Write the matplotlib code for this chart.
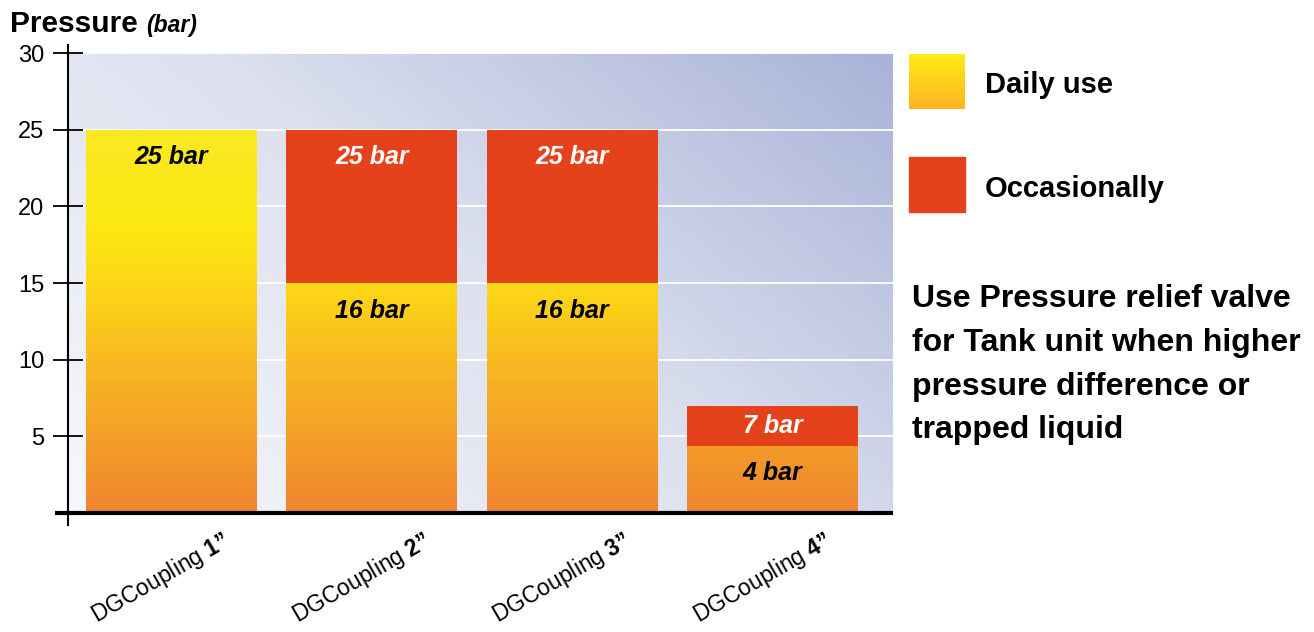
import matplotlib.pyplot as plt
import numpy as np
from matplotlib.colors import LinearSegmentedColormap
from matplotlib.patches import Rectangle
from matplotlib.transforms import ScaledTranslation

plt.rcParams['font.family'] = ['Liberation Sans', 'DejaVu Sans']
plt.rcParams['mathtext.fontset'] = 'custom'
plt.rcParams['mathtext.rm'] = 'Liberation Sans'
plt.rcParams['mathtext.bf'] = 'Liberation Sans:bold'

# data
sizes = ["1”", "2”", "3”", "4”"]
daily = [25, 15, 15, 4.4]
occasional = [0, 10, 10, 2.6]
daily_labels = ["25 bar", "16 bar", "16 bar", "4 bar"]
occasional_labels = ["", "25 bar", "25 bar", "7 bar"]
legend_labels = ["Daily use", "Occasionally"]
note = "Use Pressure relief valve\nfor Tank unit when higher\npressure difference or\ntrapped liquid"

red = "#E5411A"
bar_cmap = LinearSegmentedColormap.from_list("daily", [
    (0.0, "#EF8431"), (5 / 30, "#F4A027"), (10 / 30, "#F8BA22"),
    (15 / 30, "#FDD916"), (19 / 30, "#FCE913"), (1.0, "#F8E832")])
bg_cmap = LinearSegmentedColormap.from_list("bg", ["#F7F8FB", "#DDE1EF", "#A9B3D8"])

W, H = 1314, 632
fig = plt.figure(figsize=(W / 100, H / 100), dpi=100)
ax = fig.add_axes([68 / W, 1 - 513 / H, 825 / W, 460 / H])

# background gradient
gx, gy = np.meshgrid(np.linspace(0, 1, 200), np.linspace(0, 1, 100))
ax.imshow(0.6 * gx + 0.4 * gy, cmap=bg_cmap, extent=(0, 1, 0, 1), transform=ax.transAxes,
          origin="lower", aspect="auto", zorder=0)

x = np.arange(len(sizes))
width = 0.853
bars = ax.bar(x, daily, width=width, color="#F7B526", zorder=1)
ax.bar(x, occasional, bottom=daily, width=width, color=red, zorder=1)

# yellow -> orange gradient inside the daily bars
grad = np.linspace(0, 30, 300).reshape(-1, 1)
for b in bars:
    im = ax.imshow(grad, cmap=bar_cmap, vmin=0, vmax=30, origin="lower", aspect="auto",
                   extent=(b.get_x(), b.get_x() + b.get_width(), 0, 30), zorder=1.5)
    im.set_clip_path(b)

# value labels
for i in range(len(sizes)):
    top = daily[i]
    ax.text(x[i], max(top - 1.8, top / 2), daily_labels[i], ha="center", va="center",
            fontsize=18, fontweight="bold", fontstyle="italic", color="black", zorder=3)
    if occasional[i] > 0:
        top2 = daily[i] + occasional[i]
        ax.text(x[i], max(top2 - 1.8, daily[i] + occasional[i] / 2), occasional_labels[i],
                ha="center", va="center", fontsize=18, fontweight="bold",
                fontstyle="italic", color="white", zorder=3)

ax.set_xlim(-0.516, 3.6)
ax.set_ylim(0, 30)
ax.set_yticks([5, 10, 15, 20, 25, 30])
ax.yaxis.grid(True, color="white", lw=1.3)
ax.set_axisbelow(True)
for s in ax.spines.values():
    s.set_visible(False)

# axis lines, a bit longer than the plot area
ax.plot([-0.016, 1], [0, 0], transform=ax.transAxes, color="black", lw=3, clip_on=False,
        solid_capstyle="butt", zorder=4)
ax.plot([0, 0], [-0.026, 1.017], transform=ax.transAxes, color="black", lw=1.5,
        clip_on=False, zorder=4)

ax.tick_params(axis="y", direction="inout", length=22, width=1.3, labelsize=17, pad=6)
ax.tick_params(axis="x", length=0, pad=0, labelsize=16.5)
ax.set_xticks(x)
ax.set_xticklabels(["DGCoupling $\\mathbf{" + s + "}$" for s in sizes], rotation=30,
                   ha="right", va="baseline", rotation_mode="anchor")
offset = ScaledTranslation(0.60, -0.32, fig.dpi_scale_trans)
for lab in ax.get_xticklabels():
    lab.set_transform(lab.get_transform() + offset)

# title
fig.text(10 / W, 1 - 32 / H, "Pressure", fontsize=21.5, fontweight="bold", va="baseline")
fig.text(146 / W, 1 - 32 / H, "(bar)", fontsize=16.5, fontweight="bold", fontstyle="italic",
         va="baseline")

# legend drawn by hand
lax = fig.add_axes([909 / W, 1 - 109 / H, 56 / W, 55 / H])
lax.imshow(np.linspace(1, 0, 50).reshape(-1, 1),
           cmap=LinearSegmentedColormap.from_list("lg", ["#FBB521", "#FFEA17"]),
           aspect="auto")
lax.axis("off")
fig.patches.append(Rectangle((909 / W, 1 - 212 / H), 56 / W, 55 / H, color=red,
                             transform=fig.transFigure, figure=fig))
fig.text(985 / W, 1 - 93 / H, legend_labels[0], fontsize=21, fontweight="bold", va="baseline")
fig.text(985 / W, 1 - 197 / H, legend_labels[1], fontsize=21, fontweight="bold", va="baseline")

fig.text(912 / W, 1 - 284 / H, note, fontsize=23, fontweight="bold", va="top",
         linespacing=1.6)

fig.savefig("out.png", dpi=100)
